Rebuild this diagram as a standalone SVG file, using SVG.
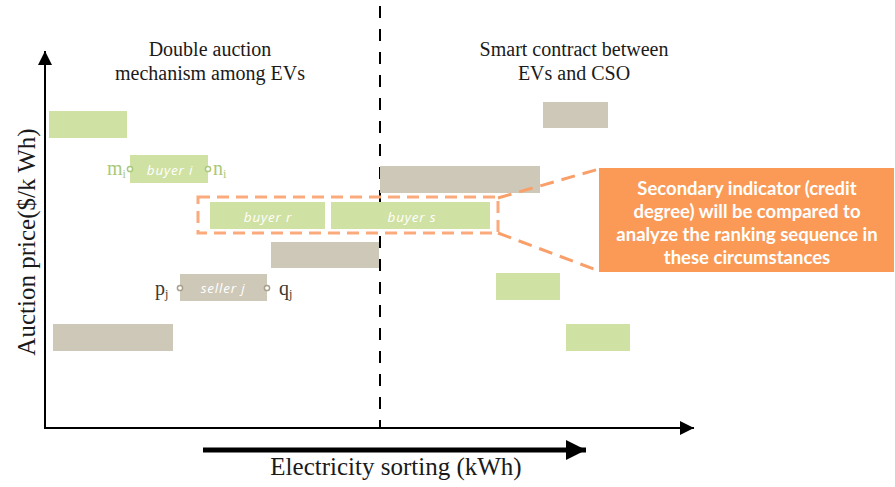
<svg xmlns="http://www.w3.org/2000/svg" width="895" height="487" viewBox="0 0 895 487">
  <defs>
    <marker id="axisHead" viewBox="0 0 10 10" refX="10" refY="5" markerWidth="15" markerHeight="14" markerUnits="userSpaceOnUse" orient="auto">
      <path d="M0,0 L10,5 L0,10 Z" fill="#000"/>
    </marker>
    <marker id="sortHead" viewBox="0 0 10 10" refX="10" refY="5" markerWidth="22" markerHeight="20" markerUnits="userSpaceOnUse" orient="auto">
      <path d="M0,0 L10,5 L0,10 Z" fill="#000"/>
    </marker>
  </defs>
  <style>
    .serif { font-family: "Liberation Serif", "Times New Roman", serif; fill: #1a1a1a; }
    .title { font-size: 20px; text-anchor: middle; }
    .axislabel { font-size: 25px; text-anchor: middle; }
    .buy { fill: #D0E1A4; }
    .sell { fill: #CEC8B8; }
    .tag { font-family: "Open Sans", "DejaVu Sans", sans-serif; font-style: italic; font-size: 13.5px; fill: #ffffff; text-anchor: middle; letter-spacing: 0.8px; }
    .pin-g { fill: #ffffff; stroke: #A9C97A; stroke-width: 1.5; }
    .pin-s { fill: #ffffff; stroke: #A89F8C; stroke-width: 1.5; }
    .lbl-g { font-family: "Liberation Serif", serif; font-size: 20px; fill: #A9C97A; }
    .lbl-s { font-family: "Liberation Serif", serif; font-size: 20px; fill: #3a3a30; }
    .sub { font-size: 12px; }
    .hl { fill: none; stroke: #FBAA7C; stroke-width: 3; stroke-dasharray: 12 7; }
    .callout-line { fill: none; stroke: #F9A06A; stroke-width: 3; stroke-dasharray: 14 8; }
    .note { font-family: Lato, "Open Sans", sans-serif; font-weight: bold; font-size: 18.5px; fill: #ffffff; text-anchor: middle; }
  </style>

  <rect width="895" height="487" fill="#ffffff"/>

  <!-- axes and section divider -->
  <g id="axes">
    <line x1="45" y1="429" x2="45" y2="51" stroke="#000" stroke-width="2" marker-end="url(#axisHead)"/>
    <line x1="44" y1="428" x2="694" y2="428" stroke="#000" stroke-width="2" marker-end="url(#axisHead)"/>
    <line x1="380" y1="6" x2="380" y2="428" stroke="#000" stroke-width="2" stroke-dasharray="12 11"/>
    <line x1="203" y1="450" x2="586" y2="450" stroke="#000" stroke-width="5" marker-end="url(#sortHead)"/>
    <text class="serif axislabel" x="396" y="475">Electricity sorting (kWh)</text>
    <text class="serif axislabel" transform="translate(35,242) rotate(-90)">Auction price($/k Wh)</text>
    <text class="serif title" x="210" y="56">Double auction</text>
    <text class="serif title" x="210" y="80">mechanism among EVs</text>
    <text class="serif title" x="574" y="56">Smart contract between</text>
    <text class="serif title" x="574" y="80">EVs and CSO</text>
  </g>

  <!-- bids on the double-auction side -->
  <g id="bid-a"><rect class="buy" x="49" y="111" width="78" height="27"/></g>
  <g id="buyer-i">
    <rect class="buy" x="130" y="155" width="78" height="28"/>
    <text class="tag" x="170" y="175">buyer i</text>
    <circle class="pin-g" cx="130" cy="169" r="2.6"/>
    <circle class="pin-g" cx="208" cy="169" r="2.6"/>
    <text class="lbl-g" x="107" y="175">m<tspan class="sub" dy="3">i</tspan></text>
    <text class="lbl-g" x="213" y="175">n<tspan class="sub" dy="3">i</tspan></text>
  </g>
  <g id="buyer-r">
    <rect class="buy" x="210" y="202" width="115" height="27"/>
    <text class="tag" x="268" y="222">buyer r</text>
  </g>
  <g id="buyer-s">
    <rect class="buy" x="331" y="202" width="159" height="27"/>
    <text class="tag" x="412" y="222">buyer s</text>
  </g>
  <g id="ask-a"><rect class="sell" x="271" y="242" width="108" height="26"/></g>
  <g id="seller-j">
    <rect class="sell" x="180" y="274" width="87" height="27"/>
    <text class="tag" x="223" y="293">seller j</text>
    <circle class="pin-s" cx="180" cy="288" r="2.6"/>
    <circle class="pin-s" cx="267" cy="288" r="2.6"/>
    <text class="lbl-s" x="155" y="295">p<tspan class="sub" dy="3">j</tspan></text>
    <text class="lbl-s" x="279" y="295">q<tspan class="sub" dy="3">j</tspan></text>
  </g>
  <g id="ask-b"><rect class="sell" x="53" y="324" width="120" height="27"/></g>

  <!-- bids on the smart-contract side -->
  <g id="ask-c"><rect class="sell" x="380" y="166" width="160" height="27"/></g>
  <g id="ask-d"><rect class="sell" x="543" y="102" width="65" height="26"/></g>
  <g id="bid-b"><rect class="buy" x="496" y="273" width="64" height="27"/></g>
  <g id="bid-c"><rect class="buy" x="566" y="324" width="64" height="27"/></g>

  <!-- tie highlight -->
  <g id="tie-highlight"><rect class="hl" x="198" y="197" width="300" height="36"/></g>

  <!-- callout note -->
  <g id="note">
    <rect x="599" y="168" width="295" height="104" fill="#FA9A56"/>
    <text class="note" x="747" y="195">Secondary indicator (credit</text>
    <text class="note" x="747" y="218">degree) will be compared to</text>
    <text class="note" x="747" y="241">analyze the ranking sequence in</text>
    <text class="note" x="747" y="264">these circumstances</text>
  </g>

  <!-- connectors -->
  <g id="connectors">
    <path class="callout-line" d="M498,198 L599,169"/>
    <path class="callout-line" d="M498,233 L599,271"/>
  </g>
</svg>
